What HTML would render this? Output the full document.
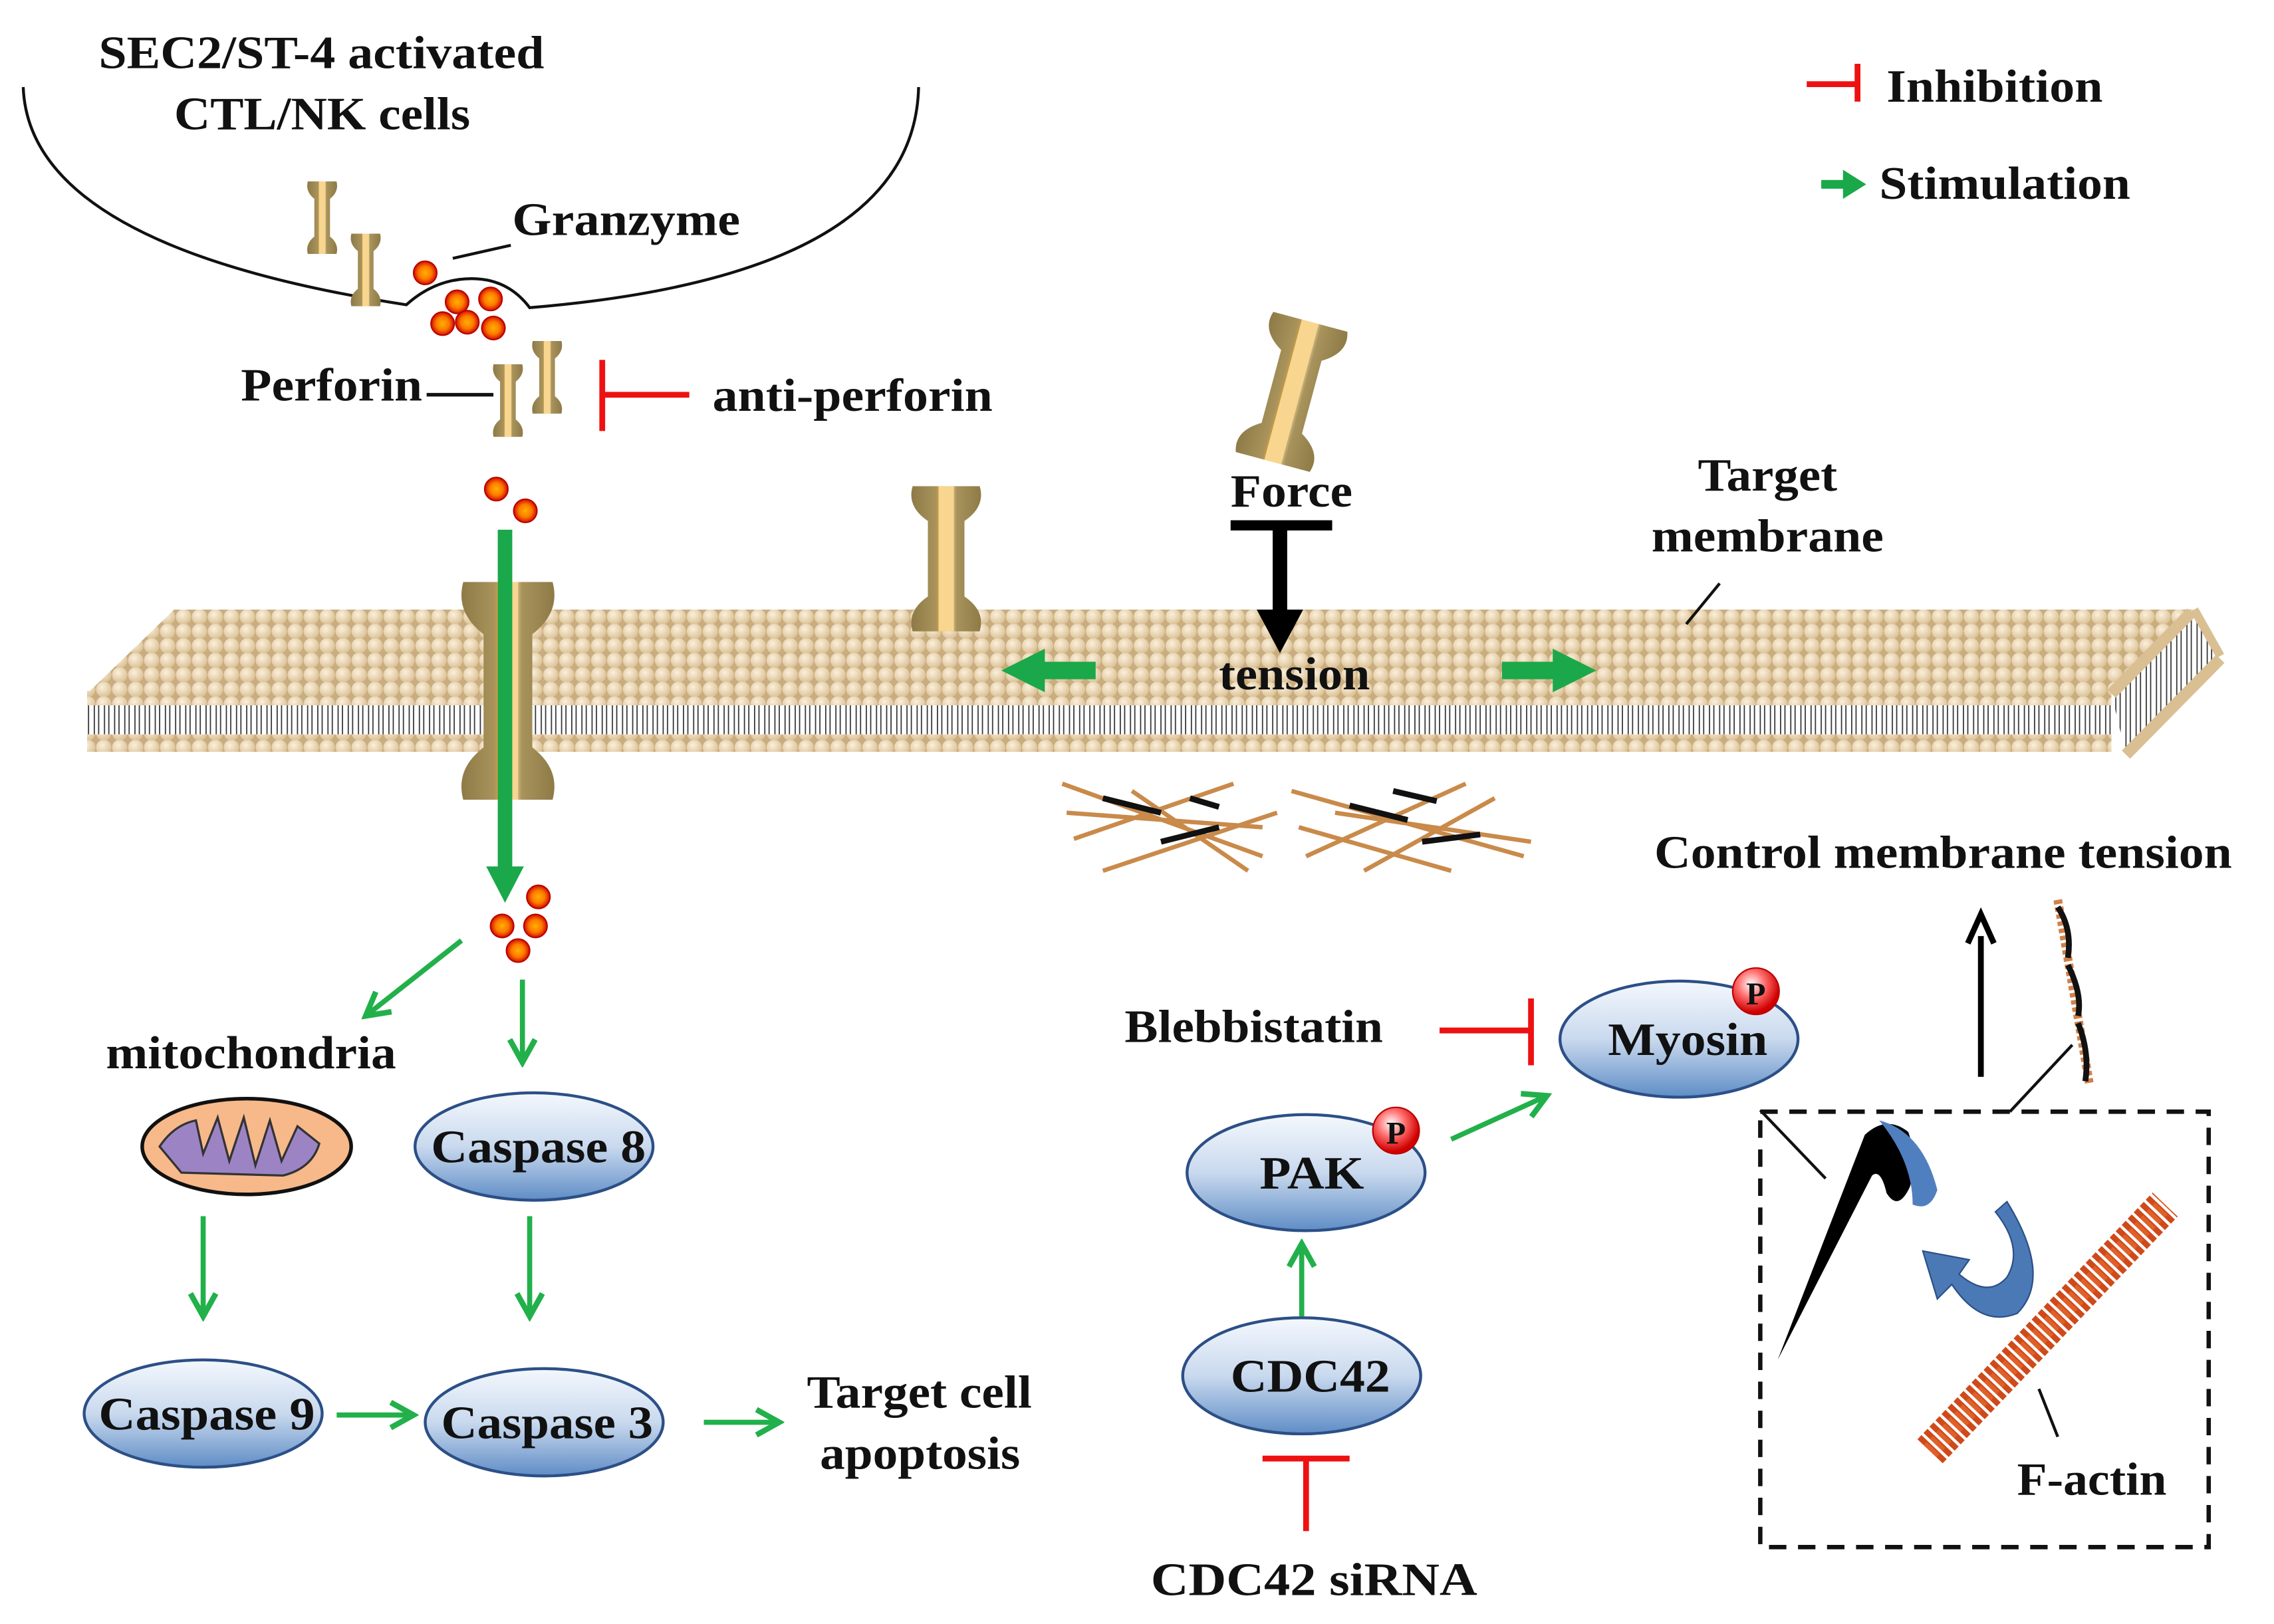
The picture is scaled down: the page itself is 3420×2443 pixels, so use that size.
<!DOCTYPE html>
<html><head><meta charset="utf-8">
<style>
html,body{margin:0;padding:0;background:#fff;}
svg{display:block;}
text{font-family:"Liberation Serif",serif;font-weight:bold;fill:#111;font-size:32px;}
</style></head>
<body>
<svg width="3420" height="2443" viewBox="0 0 1567 1119" preserveAspectRatio="none" xmlns="http://www.w3.org/2000/svg">
<defs>
<radialGradient id="head" cx="0.4" cy="0.35" r="0.7">
<stop offset="0" stop-color="#fbf0dc"/><stop offset="1" stop-color="#d9bf92"/></radialGradient>
<pattern id="heads" width="11" height="10" patternUnits="userSpaceOnUse">
<rect width="11" height="10" fill="#c9ad7e"/>
<circle cx="5.5" cy="5" r="5.3" fill="url(#head)"/></pattern>
<pattern id="tails" width="7" height="22" patternUnits="userSpaceOnUse">
<rect width="7" height="22" fill="#fff"/>
<path d="M2 0 L2 22 M5 0 L5 22" stroke="#333" stroke-width="0.8"/></pattern>
<linearGradient id="node" x1="0" y1="0" x2="0" y2="1">
<stop offset="0" stop-color="#f4f8fd"/><stop offset="0.5" stop-color="#c9d9ee"/><stop offset="1" stop-color="#5f8dc6"/></linearGradient>
<radialGradient id="gran" cx="0.5" cy="0.5" r="0.5">
<stop offset="0" stop-color="#ffb000"/><stop offset="0.55" stop-color="#ff7a00"/><stop offset="1" stop-color="#d01000"/></radialGradient>
<radialGradient id="pball" cx="0.4" cy="0.35" r="0.6">
<stop offset="0" stop-color="#fff"/><stop offset="0.5" stop-color="#ff6b6b"/><stop offset="1" stop-color="#d00000"/></radialGradient>
<linearGradient id="pore" x1="0" y1="0" x2="1" y2="0">
<stop offset="0" stop-color="#8e7a46"/><stop offset="0.35" stop-color="#a8935c"/><stop offset="0.45" stop-color="#f3a62a"/><stop offset="0.55" stop-color="#fbe3b0"/><stop offset="0.65" stop-color="#a8935c"/><stop offset="1" stop-color="#8e7a46"/></linearGradient>
<g id="sp">
<path d="M-11 -25 Q-13 -18 -6 -13 L-6 13 Q-13 18 -11 25 L11 25 Q13 18 6 13 L6 -13 Q13 -18 11 -25 Z" fill="url(#pore)"/>
<rect x="-2.5" y="-25" width="5" height="50" fill="#f8d690"/>
</g>
<g id="gr"><circle r="8" fill="url(#gran)" stroke="#b00" stroke-width="1"/></g>
<marker id="ga" markerWidth="6" markerHeight="6" refX="5" refY="3" orient="auto" markerUnits="strokeWidth"><path d="M0.5 0.5 L5 3 L0.5 5.5" fill="none" stroke="#22b04b" stroke-width="1.1"/></marker>
</defs>

<path d="M16 60 Q20 170 280 210 Q300 192 325 192 Q350 192 365 212 Q630 190 633 60" fill="none" stroke="#111" stroke-width="2"/>
<text x="68" y="47" textLength="307" lengthAdjust="spacingAndGlyphs">SEC2/ST-4 activated</text>
<text x="120" y="89" textLength="204" lengthAdjust="spacingAndGlyphs">CTL/NK cells</text>
<text x="353" y="162" textLength="157" lengthAdjust="spacingAndGlyphs">Granzyme</text>
<line x1="312" y1="178" x2="352" y2="169" stroke="#111" stroke-width="2"/>
<use href="#gr" x="293" y="188"/>
<use href="#gr" x="315" y="208"/><use href="#gr" x="338" y="206"/><use href="#gr" x="305" y="223"/><use href="#gr" x="322" y="222"/><use href="#gr" x="340" y="226"/>
<use href="#sp" transform="translate(222,150) scale(0.9,1)"/>
<use href="#sp" transform="translate(252,186) scale(0.9,1)"/>
<use href="#sp" transform="translate(350,276) scale(0.9,1)"/>
<use href="#sp" transform="translate(377,260) scale(0.9,1)"/>
<text x="166" y="276" textLength="125" lengthAdjust="spacingAndGlyphs">Perforin</text>
<line x1="294" y1="272" x2="340" y2="272" stroke="#111" stroke-width="2.5"/>
<path d="M415 248 L415 297 M415 272 L475 272" stroke="#ee1111" stroke-width="4" fill="none"/>
<text x="491" y="283" textLength="193" lengthAdjust="spacingAndGlyphs">anti-perforin</text>

<path d="M1245 58 L1280 58 M1280 44 L1280 70" stroke="#ee1111" stroke-width="4" fill="none"/>
<text x="1300" y="70" textLength="149" lengthAdjust="spacingAndGlyphs">Inhibition</text>
<path d="M1255 127 L1272 127" stroke="#1aa84a" stroke-width="6"/>
<path d="M1270 117 L1286 127 L1270 137 Z" fill="#1aa84a"/>
<text x="1295" y="137" textLength="173" lengthAdjust="spacingAndGlyphs">Stimulation</text>

<path d="M60 478 L120 420 L1512 420 L1455 478 Z" fill="url(#heads)"/>
<rect x="60" y="484" width="1395" height="22" fill="url(#tails)"/>
<rect x="60" y="506" width="1395" height="12" fill="url(#heads)"/>
<rect x="60" y="476" width="1395" height="10" fill="url(#heads)"/>
<path d="M1455 478 L1512 420 L1530 452 L1465 520 Z" fill="url(#tails)"/>
<path d="M1512 420 L1530 452" stroke="#d9bf92" stroke-width="6"/>
<path d="M1455 478 L1510 422" stroke="#d9bf92" stroke-width="8"/>
<path d="M1465 520 L1530 454" stroke="#d9bf92" stroke-width="8"/>

<use href="#sp" transform="translate(350,476) scale(2.8,3)"/>
<use href="#sp" transform="translate(652,385) scale(2.1,2)"/>
<use href="#sp" transform="translate(890,270) rotate(15) scale(2.4,2)"/>

<text x="1170" y="338" textLength="96" lengthAdjust="spacingAndGlyphs">Target</text>
<text x="1138" y="380" textLength="160" lengthAdjust="spacingAndGlyphs">membrane</text>
<line x1="1185" y1="402" x2="1162" y2="430" stroke="#111" stroke-width="2"/>

<text x="848" y="349" textLength="84" lengthAdjust="spacingAndGlyphs">Force</text>
<path d="M848 362 L918 362" stroke="#000" stroke-width="7"/>
<path d="M882 362 L882 425" stroke="#000" stroke-width="10"/>
<path d="M866 420 L898 420 L882 450 Z" fill="#000"/>
<text x="840" y="475" textLength="104" lengthAdjust="spacingAndGlyphs">tension</text>
<path d="M755 462 L715 462" stroke="#1aa84a" stroke-width="12"/>
<path d="M720 447 L690 462 L720 477 Z" fill="#1aa84a"/>
<path d="M1035 462 L1075 462" stroke="#1aa84a" stroke-width="12"/>
<path d="M1070 447 L1100 462 L1070 477 Z" fill="#1aa84a"/>

<use href="#gr" x="342" y="337"/><use href="#gr" x="362" y="352"/>
<path d="M348 365 L348 600" stroke="#1aa84a" stroke-width="10"/>
<path d="M335 597 L361 597 L348 622 Z" fill="#1aa84a"/>
<use href="#gr" x="371" y="618"/><use href="#gr" x="346" y="638"/><use href="#gr" x="369" y="638"/><use href="#gr" x="357" y="655"/>

<g stroke-width="3" fill="none">
<path d="M732 540 L870 590 M740 578 L850 540 M760 600 L880 560 M780 545 L860 600 M735 560 L870 570" stroke="#c98a4a"/>
<path d="M890 545 L1050 590 M900 590 L1010 540 M920 560 L1055 580 M940 600 L1030 550 M895 570 L1000 600" stroke="#c98a4a"/>
<path d="M760 550 L800 560 M800 580 L840 570 M930 555 L970 565 M980 580 L1020 575 M820 550 L840 556 M960 545 L990 552" stroke="#111" stroke-width="4"/>
</g>

<g stroke="#22b04b" stroke-width="3.5" fill="none" marker-end="url(#ga)">
<line x1="318" y1="648" x2="252" y2="700"/>
<line x1="360" y1="675" x2="360" y2="732"/>
<line x1="140" y1="838" x2="140" y2="907"/>
<line x1="365" y1="838" x2="365" y2="907"/>
<line x1="232" y1="975" x2="285" y2="975"/>
<line x1="485" y1="980" x2="537" y2="980"/>
<line x1="897" y1="907" x2="897" y2="857"/>
<line x1="1000" y1="785" x2="1066" y2="755"/>
</g>
<text x="73" y="736" textLength="200" lengthAdjust="spacingAndGlyphs">mitochondria</text>
<ellipse cx="170" cy="790" rx="72" ry="33" fill="#f7b98a" stroke="#111" stroke-width="2.5"/>
<path d="M110 790 Q120 775 135 772 L140 795 L150 770 L158 800 L168 770 L176 803 L186 772 L194 800 L205 776 L220 788 Q215 805 195 810 L125 808 Z" fill="#9c84c4" stroke="#333" stroke-width="1.5"/>

<g stroke="#2c4f86" stroke-width="2" fill="url(#node)">
<ellipse cx="368" cy="790" rx="82" ry="37"/>
<ellipse cx="140" cy="974" rx="82" ry="37"/>
<ellipse cx="375" cy="980" rx="82" ry="37"/>
<ellipse cx="900" cy="808" rx="82" ry="40"/>
<ellipse cx="897" cy="948" rx="82" ry="40"/>
<ellipse cx="1157" cy="716" rx="82" ry="40"/>
</g>
<text x="297" y="801" textLength="148" lengthAdjust="spacingAndGlyphs">Caspase 8</text>
<text x="68" y="985" textLength="149" lengthAdjust="spacingAndGlyphs">Caspase 9</text>
<text x="304" y="991" textLength="146" lengthAdjust="spacingAndGlyphs">Caspase 3</text>
<text x="868" y="819" textLength="72" lengthAdjust="spacingAndGlyphs">PAK</text>
<text x="848" y="959" textLength="110" lengthAdjust="spacingAndGlyphs">CDC42</text>
<text x="1108" y="727" textLength="110" lengthAdjust="spacingAndGlyphs">Myosin</text>
<circle cx="962" cy="779" r="16" fill="url(#pball)" stroke="#b00"/>
<text x="962" y="788" style="font-size:22px" text-anchor="middle" font-family="Liberation Sans">P</text>
<circle cx="1210" cy="683" r="16" fill="url(#pball)" stroke="#b00"/>
<text x="1210" y="692" style="font-size:22px" text-anchor="middle" font-family="Liberation Sans">P</text>

<text x="556" y="970" textLength="155" lengthAdjust="spacingAndGlyphs">Target cell</text>
<text x="565" y="1012" textLength="138" lengthAdjust="spacingAndGlyphs">apoptosis</text>
<text x="775" y="718" textLength="178" lengthAdjust="spacingAndGlyphs">Blebbistatin</text>
<path d="M992 710 L1055 710 M1055 688 L1055 734" stroke="#ee1111" stroke-width="4" fill="none"/>
<path d="M870 1005 L930 1005 M900 1005 L900 1055" stroke="#ee1111" stroke-width="4" fill="none"/>
<text x="793" y="1099" textLength="225" lengthAdjust="spacingAndGlyphs">CDC42  siRNA</text>

<text x="1140" y="598" textLength="398" lengthAdjust="spacingAndGlyphs">Control membrane tension</text>
<path d="M1365 742 L1365 645" stroke="#000" stroke-width="4"/>
<path d="M1356 650 L1365 630 L1374 650" fill="none" stroke="#000" stroke-width="4"/>
<path d="M1418 620 L1440 748" stroke="#d2804a" stroke-width="6" stroke-dasharray="3 2"/>
<path d="M1418 625 Q1428 640 1425 660 M1425 665 Q1435 685 1432 700 M1432 705 Q1440 725 1437 745" stroke="#111" stroke-width="4" fill="none"/>
<line x1="1385" y1="766" x2="1428" y2="720" stroke="#111" stroke-width="2"/>
<line x1="1213" y1="765" x2="1258" y2="812" stroke="#111" stroke-width="2"/>

<rect x="1213" y="766" width="309" height="300" fill="none" stroke="#111" stroke-width="3" stroke-dasharray="12 8"/>
<path d="M1225 937 L1285 782 Q1300 768 1315 780 Q1322 800 1316 818 Q1308 835 1300 822 Q1296 805 1290 810 Z" fill="#000"/>
<path d="M1295 772 Q1325 780 1335 820 Q1330 835 1318 830 Q1318 800 1295 772 Z" fill="#4f7fbf"/>
<path d="M1383 828 Q1415 880 1390 905 Q1365 915 1345 885 L1335 895 L1325 862 L1357 868 L1350 878 Q1370 895 1383 880 Q1395 860 1375 835 Z" fill="#4a79b5" stroke="#2c4f86"/>
<path d="M1330 1000 L1492 830" stroke="#cf4a1a" stroke-width="24" stroke-dasharray="4 2"/>
<path d="M1330 1000 L1492 830" stroke="#e86a30" stroke-width="12" stroke-dasharray="3 3" opacity="0.7"/>
<line x1="1405" y1="957" x2="1418" y2="990" stroke="#111" stroke-width="2"/>
<text x="1390" y="1030" textLength="103" lengthAdjust="spacingAndGlyphs">F-actin</text>
</svg>
</body></html>
